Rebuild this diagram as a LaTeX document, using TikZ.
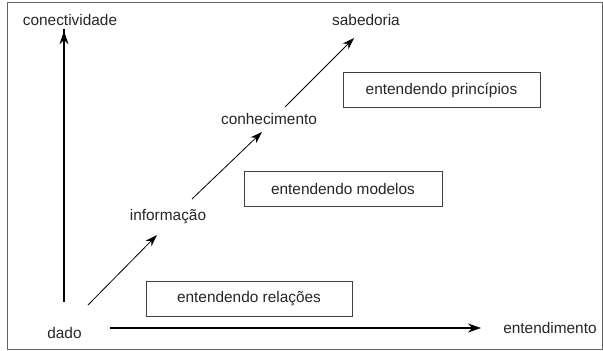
\documentclass[tikz,border=0pt]{standalone}
\usepackage{fontspec}
\setmainfont{Liberation Sans}
\usetikzlibrary{arrows.meta, positioning}
\tikzset{
    >={Stealth[length=13pt,width=9pt]}, % filled arrow heads
    every node/.style={font=\fontsize{15.4}{18}\selectfont, text=black!85},
    level/.style={draw=black!75, line width=1pt, minimum height=35pt, inner sep=0pt}, % boxes with the kinds of understanding
    axis/.style={->, line width=1.5pt},
    climb/.style={->, line width=0.8pt, >={Stealth[length=12pt,width=8pt]}},
}
\begin{document}
\begin{tikzpicture}[x=1pt, y=-1pt]
    \useasboundingbox (0,0) rectangle (603,351);
    \draw[black!60, line width=1pt] (7,2.5) rectangle (602,349);

    % axes
    \node (dado) at (64.5,333) {dado};
    \node (conect) at (70,20) {conectividade};
    \node (entend) at (550,328) {entendimento};
    \draw[axis] (dado.north -| 64,0) ++(0,-22) coordinate (v0) -- (v0 |- conect.south) ++(0,2);
    \coordinate (h0) at (110,328);
    \coordinate (h1) at (481,328);
    \draw[axis] (h0) -- (h1);

    % the climb
    \node (info) at (168,217) {informação};
    \node (conhec) at (269,119) {conhecimento};
    \node (sabed) at (366,20) {sabedoria};
    \coordinate (a0) at (88,305);  \coordinate (a1) at (157,235);
    \coordinate (b0) at (192,199); \coordinate (b1) at (262,132);
    \coordinate (c0) at (285,107); \coordinate (c1) at (354,38);
    \draw[climb] (a0) -- (a1);
    \draw[climb] (b0) -- (b1);
    \draw[climb] (c0) -- (c1);

    % boxes
    \node[level, minimum width=206pt] (rel) at (249,299) {entendendo relações};
    \node[level, minimum width=198pt] (mod) at (343,188.5) {entendendo modelos};
    \node[level, minimum width=197pt] (prin) at (441.5,90) {entendendo princípios};
\end{tikzpicture}
\end{document}
